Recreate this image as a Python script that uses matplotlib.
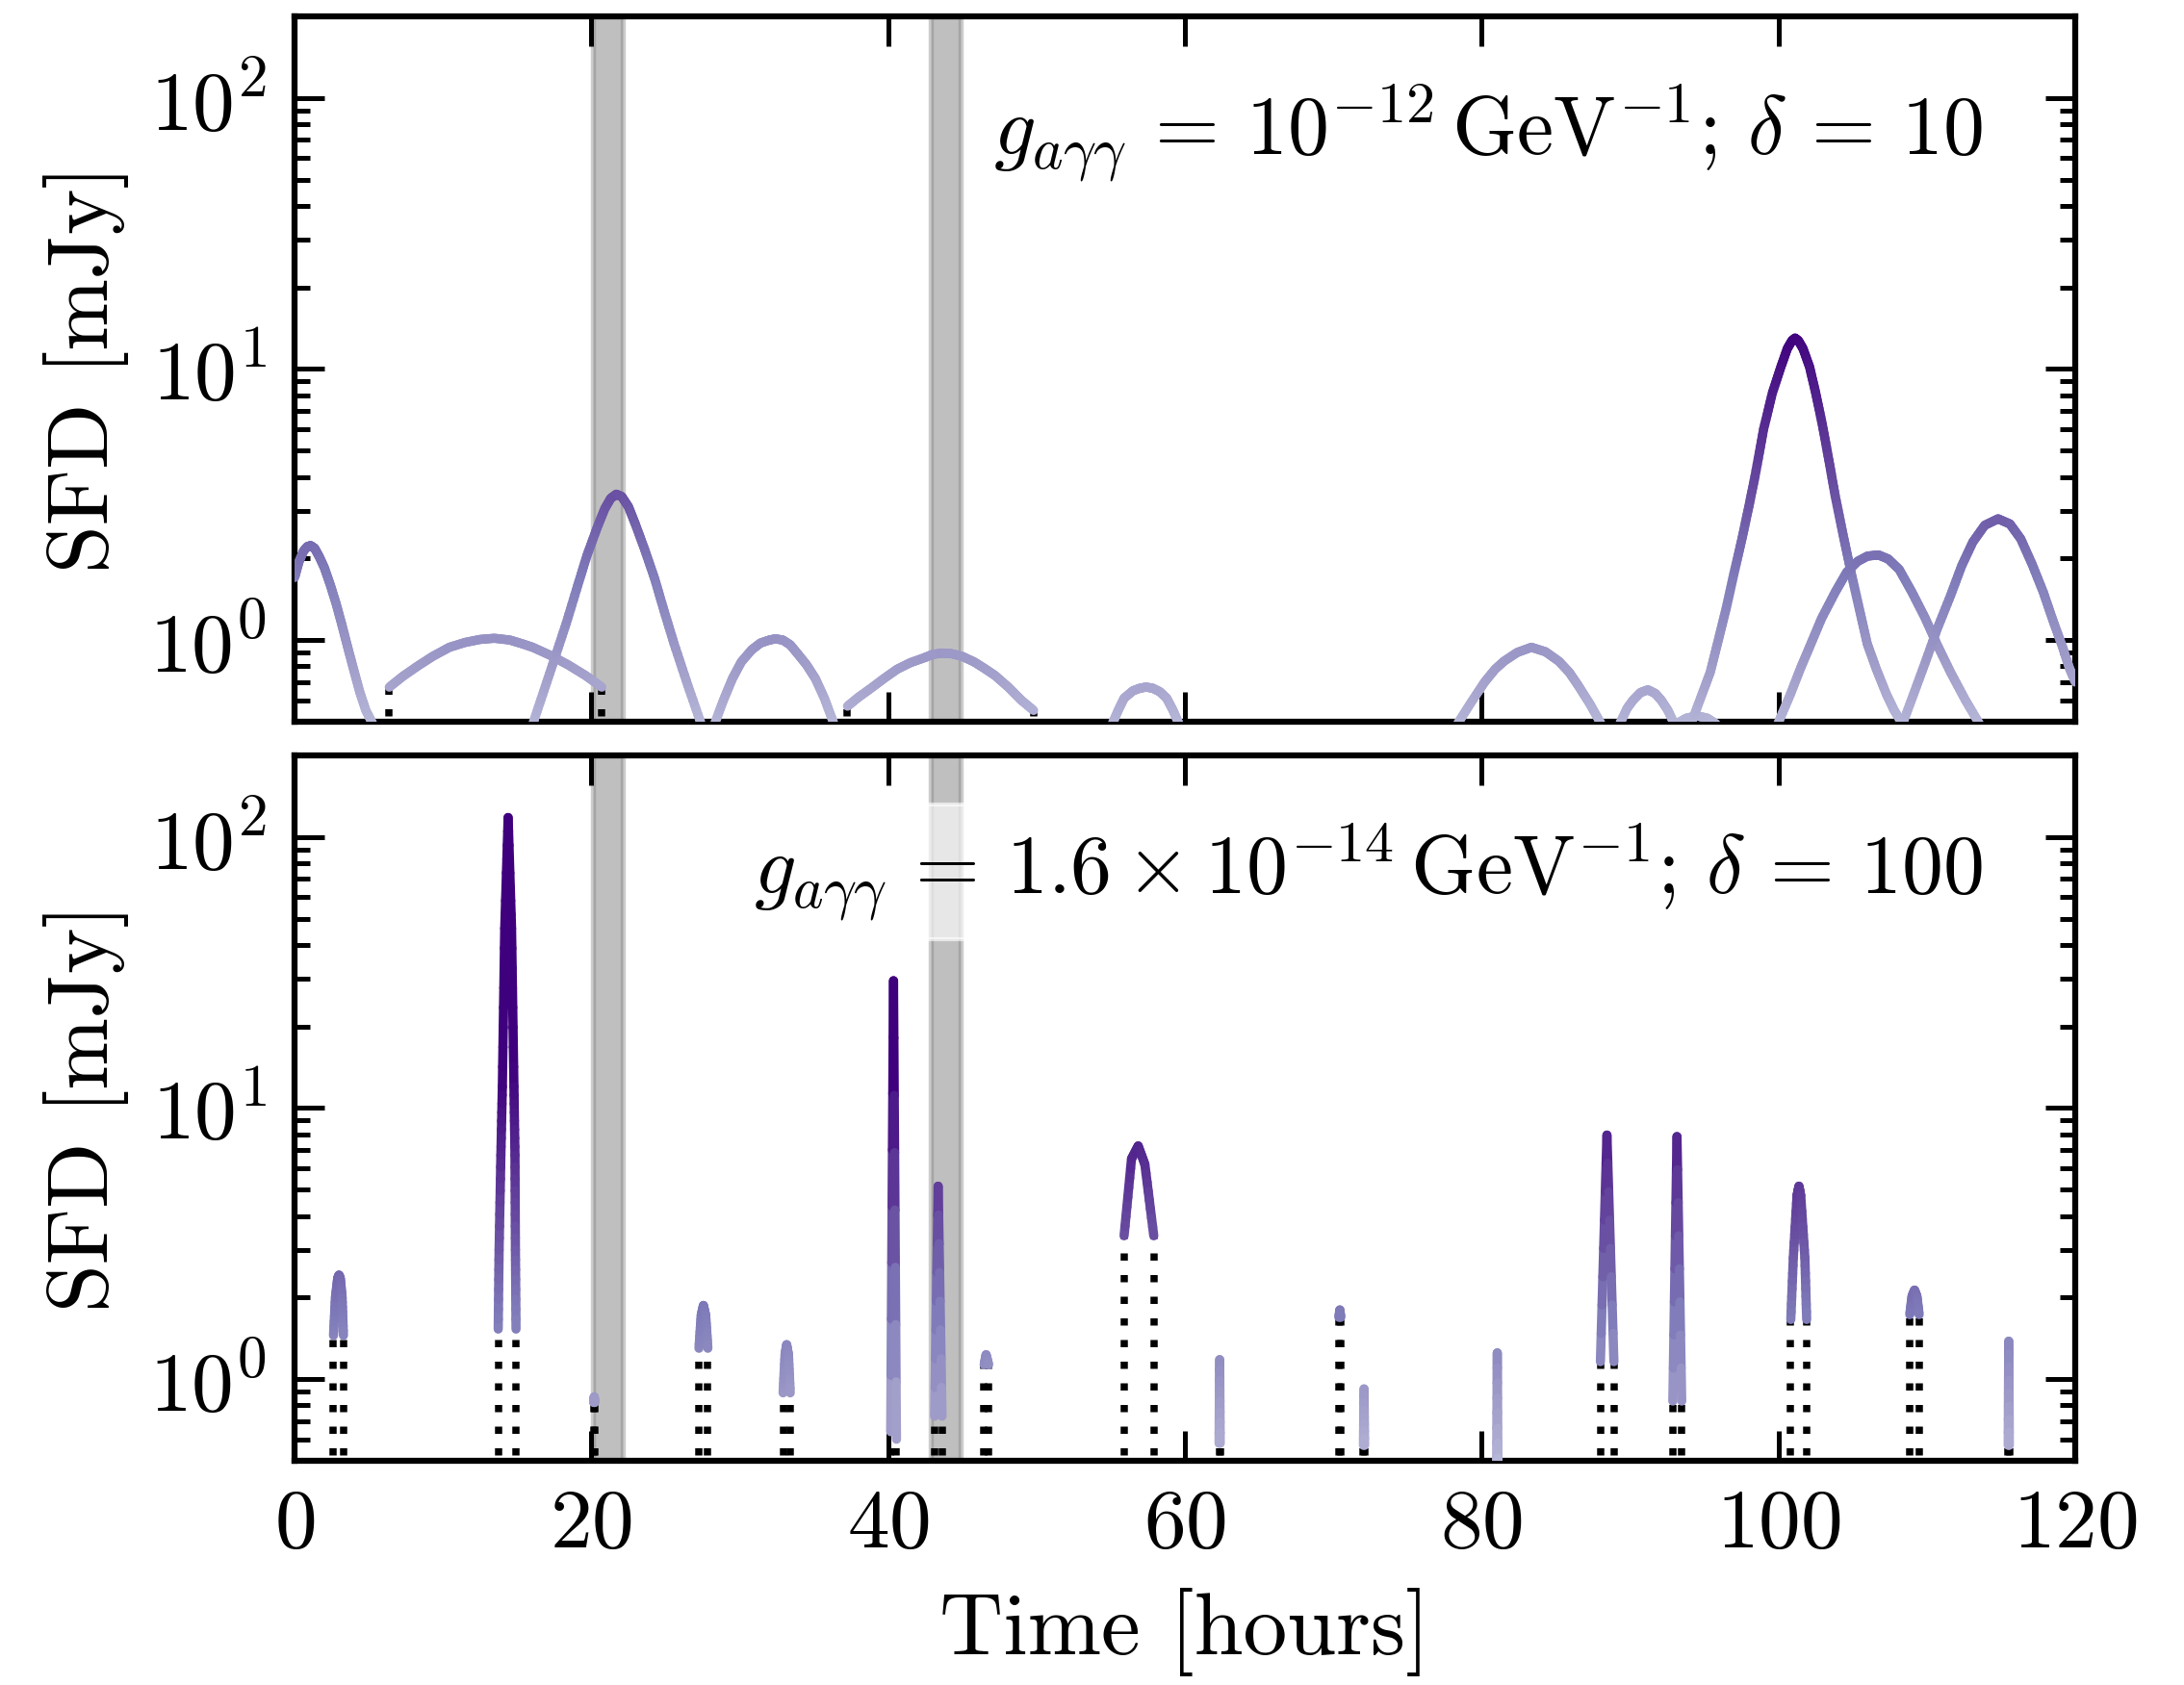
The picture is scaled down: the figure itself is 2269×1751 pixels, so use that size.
import numpy as np
import matplotlib
matplotlib.use("Agg")
import matplotlib.pyplot as plt
from matplotlib.collections import LineCollection
from matplotlib.colors import LogNorm

plt.rcParams.update({
    "font.family": "serif",
    "font.serif": ["cmr10"],
    "mathtext.fontset": "cm",
    "axes.formatter.use_mathtext": True,
    "axes.linewidth": 1.5,
    "xtick.direction": "in", "ytick.direction": "in",
    "xtick.top": True, "ytick.right": True,
    "xtick.major.size": 7.5, "xtick.major.width": 1.2,
    "ytick.major.size": 7.5, "ytick.major.width": 1.2,
    "ytick.minor.size": 3.9, "ytick.minor.width": 1.2,
    "xtick.labelsize": 21, "ytick.labelsize": 21,
    "axes.labelsize": 22,
    "xtick.major.pad": 7, "ytick.major.pad": 7,
})

# ---------------- data ----------------
bands = [(20.1, 22.1), (42.85, 44.9)]
x_ticks = [0, 20, 40, 60, 80, 100, 120]

# top panel: g = 1e-12 GeV^-1, delta = 10
top_x = [
    [0.0, 0.3, 0.6, 0.85, 1.08, 1.35, 1.66, 2.0, 2.4, 2.8, 3.2, 3.6, 4.0, 4.4, 4.8, 5.27],
    [6.38, 7.3, 8.27, 9.3, 10.43, 11.5, 12.5, 13.46, 14.5, 15.3, 16.05, 17.2, 18.43, 19.6, 20.7],
    [16.05, 16.8, 17.57, 18.3, 19.08, 19.7, 20.38, 20.9, 21.3, 21.68, 22.05, 22.5, 22.97,
     23.6, 24.27, 24.9, 25.57, 26.5, 27.4],
    [28.3, 28.9, 29.5, 30.1, 30.8, 31.4, 32.0, 32.4, 32.9, 33.4, 33.9, 34.5, 35.1, 35.7, 36.35],
    [37.26, 38.0, 38.78, 39.7, 40.6, 41.5, 42.43, 43.0, 43.65, 44.3, 45.0, 45.8, 46.5, 47.2,
     48.1, 48.97, 49.8],
    [55.1, 55.5, 55.9, 56.5, 57.0, 57.38, 57.8, 58.3, 58.77, 59.2, 59.6],
    [78.36, 79.3, 80.2, 80.9, 81.5, 82.4, 83.35, 84.3, 85.2, 85.9, 86.5, 87.3, 88.05],
    [89.3, 89.8, 90.2, 90.7, 91.2, 91.7, 92.1, 92.55, 92.98],
    [93.1, 93.8, 94.5, 95.2, 95.8],
    [94.1, 94.75, 95.4, 95.95, 96.48, 97.0, 97.56, 98.0, 98.42, 99.0, 99.6, 100.17, 100.6,
     100.9, 101.12, 101.35, 101.65, 102.09, 102.5, 102.96, 103.4, 103.82, 104.35, 104.9,
     105.45, 105.98, 106.6, 107.28, 107.8, 108.36],
    [99.95, 100.8, 101.5, 102.1, 102.9, 103.82, 104.6, 105.33, 106.0, 106.74, 107.4, 108.14,
     109.0, 109.87, 110.7, 111.6, 112.6, 113.55],
    [108.36, 109.1, 109.87, 110.7, 111.6, 112.35, 113.1, 113.9, 114.8, 115.6, 116.33, 117.1,
     117.85, 118.5, 119.14, 119.6, 120.0],
]
top_y = [
    [1.70, 1.95, 2.13, 2.21, 2.23, 2.18, 2.03, 1.85, 1.60, 1.36, 1.13, 0.93, 0.77, 0.64, 0.55, 0.49],
    [0.67, 0.735, 0.80, 0.87, 0.94, 0.98, 1.005, 1.015, 1.0, 0.97, 0.94, 0.88, 0.81, 0.74, 0.67],
    [0.49, 0.65, 0.87, 1.15, 1.59, 2.05, 2.59, 3.05, 3.33, 3.45, 3.38, 3.1, 2.67,
     2.15, 1.68, 1.28, 0.97, 0.68, 0.49],
    [0.49, 0.60, 0.72, 0.83, 0.92, 0.975, 1.0, 1.01, 1.0, 0.96, 0.89, 0.81, 0.72, 0.61, 0.49],
    [0.57, 0.615, 0.66, 0.72, 0.78, 0.825, 0.86, 0.885, 0.895, 0.89, 0.87, 0.83, 0.785, 0.74,
     0.67, 0.60, 0.55],
    [0.49, 0.55, 0.61, 0.65, 0.665, 0.67, 0.665, 0.645, 0.61, 0.55, 0.49],
    [0.49, 0.59, 0.70, 0.78, 0.835, 0.90, 0.94, 0.905, 0.835, 0.76, 0.68, 0.58, 0.49],
    [0.49, 0.56, 0.60, 0.64, 0.655, 0.635, 0.60, 0.55, 0.49],
    [0.49, 0.515, 0.525, 0.515, 0.49],
    [0.49, 0.61, 0.76, 1.0, 1.31, 1.76, 2.39, 3.1, 4.02, 6.0, 8.2, 10.2, 11.9,
     12.7, 13.0, 12.7, 11.9, 10.2, 8.2, 6.22, 4.6, 3.41, 2.45, 1.77,
     1.3, 0.97, 0.78, 0.63, 0.55, 0.49],
    [0.49, 0.63, 0.79, 0.944, 1.2, 1.5, 1.78, 1.95, 2.04, 2.06, 1.99, 1.82,
     1.5, 1.21, 0.96, 0.76, 0.60, 0.49],
    [0.49, 0.63, 0.82, 1.1, 1.46, 1.88, 2.3, 2.65, 2.8, 2.68, 2.36, 1.9,
     1.5, 1.18, 0.944, 0.79, 0.70],
]

# bottom panel: g = 1.6e-14 GeV^-1, delta = 100
bot_x = [
    [2.62, 2.75, 2.9, 2.99, 3.08, 3.2, 3.29],
    [13.72, 13.78, 13.9, 14.0, 14.16, 14.39, 14.62, 14.78, 14.85, 14.88, 14.92],
    [20.15, 20.19, 20.23],
    [27.25, 27.4, 27.55, 27.7, 27.85],
    [32.92, 33.05, 33.16, 33.28, 33.4],
    [40.17, 40.36, 40.56],
    [43.13, 43.37, 43.63],
    [46.47, 46.6, 46.77],
    [55.9, 56.4, 56.85, 57.3, 57.9],
    [62.3, 62.34, 62.38],
    [70.38, 70.44, 70.5],
    [72.03, 72.07, 72.11],
    [81.0, 81.05, 81.1],
    [88.0, 88.44, 88.91],
    [92.88, 93.16, 93.48],
    [100.83, 101.0, 101.25, 101.38, 101.5, 101.78, 101.9],
    [108.85, 109.0, 109.17, 109.33, 109.48],
    [115.48, 115.52, 115.56],
]
bot_y = [
    [1.45, 2.0, 2.35, 2.42, 2.35, 2.0, 1.45],
    [1.53, 3.0, 6.7, 12.0, 46.0, 118.0, 46.0, 12.0, 6.7, 3.0, 1.53],
    [0.82, 0.86, 0.82],
    [1.30, 1.72, 1.87, 1.72, 1.30],
    [0.89, 1.23, 1.34, 1.23, 0.89],
    [0.64, 29.5, 0.60],
    [0.73, 5.15, 0.73],
    [1.13, 1.23, 1.13],
    [3.38, 6.5, 7.25, 6.2, 3.38],
    [0.58, 1.18, 0.58],
    [1.69, 1.80, 1.69],
    [0.57, 0.92, 0.57],
    [0.45, 1.25, 0.45],
    [1.16, 7.95, 1.16],
    [0.83, 7.85, 0.83],
    [1.66, 2.8, 4.75, 5.15, 4.75, 2.8, 1.66],
    [1.73, 2.02, 2.13, 2.02, 1.73],
    [0.57, 1.38, 0.57],
]

labels = [r"$g_{a\gamma\gamma} \,=\, 10^{-12}\,\mathrm{GeV}^{-1};\,\delta \,=\, 10$",
          r"$g_{a\gamma\gamma} \,=\, 1.6\times10^{-14}\,\mathrm{GeV}^{-1};\,\delta \,=\, 100$"]

# ---------------- drawing ----------------
YMIN, YMAX = 0.5, 200
cmap = plt.get_cmap("Purples")
norm = LogNorm(vmin=0.05, vmax=14)
LW = 2.3


def draw_curve(ax, xs, ys):
    xs = np.asarray(xs, float)
    ys = np.asarray(ys, float)
    segs, vals = [], []
    t = np.linspace(0, 1, 9)
    for i in range(len(xs) - 1):
        sx = xs[i] + (xs[i + 1] - xs[i]) * t
        ly = np.log10(ys[i]) + (np.log10(ys[i + 1]) - np.log10(ys[i])) * t
        sy = 10 ** ly
        for j in range(len(t) - 1):
            segs.append([(sx[j], sy[j]), (sx[j + 1], sy[j + 1])])
            vals.append(np.sqrt(sy[j] * sy[j + 1]))
    cols = cmap(np.clip(norm(np.array(vals)), 0, 1))
    lc = LineCollection(segs, colors=cols, linewidths=LW,
                        capstyle="round", joinstyle="round", zorder=3)
    ax.add_collection(lc)
    # dotted drop lines at cut ends
    for xe, ye in ((xs[0], ys[0]), (xs[-1], ys[-1])):
        if ye > YMIN and 0 < xe < 120:
            ax.plot([xe, xe], [0.3, ye], color="black", lw=1.8,
                    linestyle=(0, (1, 2.0)), dash_capstyle="butt", zorder=2.5)


fig = plt.figure(figsize=(2269 / 300, 1751 / 300), dpi=300)
fig.subplots_adjust(left=0.1349, right=0.9502, top=0.9903, bottom=0.1331, hspace=0.048)
axes = [fig.add_subplot(2, 1, 1), fig.add_subplot(2, 1, 2)]

for k, (ax, cx, cy) in enumerate(zip(axes, [top_x, bot_x], [top_y, bot_y])):
    ax.set_yscale("log")
    for b0, b1 in bands:
        ax.axvspan(b0, b1, facecolor=(0.5, 0.5, 0.5, 0.5),
                   edgecolor=(0.5, 0.5, 0.5, 0.4), lw=1.3, zorder=1)
    for xs, ys in zip(cx, cy):
        draw_curve(ax, xs, ys)
    ax.set_xlim(0, 120)
    ax.set_ylim(YMIN, YMAX)
    ax.set_xticks(x_ticks)
    ax.xaxis.set_minor_locator(matplotlib.ticker.NullLocator())
    ax.set_ylabel("SFD [mJy]", labelpad=5, fontsize=21.5)
    ax.text(0.948, 0.835, labels[k], transform=ax.transAxes, ha="right",
            va="center", fontsize=20.6, zorder=5,
            bbox=dict(boxstyle="square,pad=0.2", fc="white", ec="white", alpha=0.64))

axes[0].tick_params(labelbottom=False)
axes[1].set_xlabel("Time [hours]", labelpad=6)

fig.savefig("out.png", dpi=300)
